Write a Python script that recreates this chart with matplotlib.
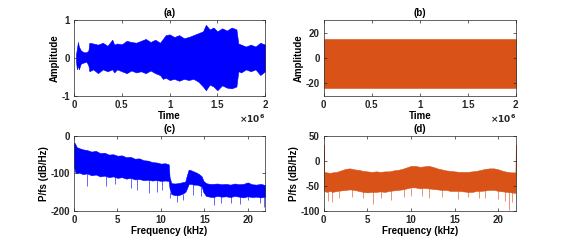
import numpy as np
import matplotlib.pyplot as plt
from matplotlib.ticker import FuncFormatter

plt.rcParams['font.family'] = ['Liberation Sans', 'DejaVu Sans']
plt.rcParams['font.weight'] = 'bold'
plt.rcParams['axes.labelweight'] = 'bold'
plt.rcParams['axes.titleweight'] = 'bold'
plt.rcParams['axes.unicode_minus'] = False

BLUE = '#0000ff'
ORANGE = '#d95319'

# (a) time signal envelope (time in samples x1e6)
a_t = [0.02, 0.03, 0.04, 0.05, 0.07, 0.10, 0.13, 0.15, 0.16, 0.20, 0.25, 0.30, 0.35,
       0.40, 0.42, 0.45, 0.50, 0.55, 0.60, 0.65, 0.70, 0.75, 0.80, 0.85, 0.90, 0.93,
       0.96, 1.00, 1.05, 1.10, 1.15, 1.20, 1.25, 1.30, 1.35, 1.38, 1.42, 1.46, 1.50,
       1.55, 1.60, 1.65, 1.70, 1.72, 1.75, 1.80, 1.85, 1.90, 1.95, 2.00]
a_up = [0.10, 0.25, 0.42, 0.30, 0.20, 0.15, 0.15, 0.20, 0.40, 0.38, 0.35, 0.40, 0.32,
        0.48, 0.35, 0.38, 0.36, 0.45, 0.42, 0.40, 0.45, 0.50, 0.42, 0.48, 0.40, 0.50,
        0.60, 0.62, 0.55, 0.60, 0.52, 0.55, 0.60, 0.65, 0.70, 0.87, 0.75, 0.80, 0.70,
        0.78, 0.72, 0.80, 0.75, 0.38, 0.35, 0.30, 0.35, 0.30, 0.40, 0.35]
a_lo = [-0.10, -0.30, -0.20, -0.30, -0.15, -0.12, -0.10, -0.20, -0.35, -0.30, -0.40,
        -0.30, -0.35, -0.30, -0.38, -0.30, -0.35, -0.40, -0.33, -0.38, -0.35, -0.40,
        -0.33, -0.40, -0.45, -0.55, -0.52, -0.58, -0.55, -0.60, -0.55, -0.58, -0.55,
        -0.62, -0.75, -0.85, -0.70, -0.75, -0.85, -0.72, -0.78, -0.80, -0.75, -0.35,
        -0.38, -0.30, -0.35, -0.30, -0.45, -0.35]

# (b) time signal envelope
b_t = [0.0, 2.0]
b_up = [15, 15]
b_lo = [-24, -24]

# (c) PSD envelope (kHz, dB/Hz)
c_f = [0, 0.1, 0.3, 0.6, 1.0, 1.5, 2.0, 2.5, 3.0, 3.5, 4.0, 4.5, 5.0, 5.5, 6.0, 6.5,
       7.0, 7.5, 8.0, 8.5, 9.0, 9.5, 10.0, 10.5, 10.9, 11.0, 11.2, 11.6, 12.0, 12.4,
       12.8, 13.0, 13.2, 13.5, 13.8, 14.1, 14.4, 14.7, 14.9, 15.2, 15.6, 16.0, 16.5,
       17.0, 17.5, 18.0, 18.5, 19.0, 19.5, 20.0, 20.5, 21.0, 21.5, 22.0]
c_up = [-18, -20, -30, -33, -36, -38, -42, -40, -46, -45, -50, -49, -53, -52, -57, -56,
        -61, -60, -65, -66, -70, -71, -74, -73, -76, -110, -126, -127, -126, -124,
        -122, -105, -90, -92, -95, -98, -102, -108, -120, -126, -128, -128, -127,
        -129, -128, -130, -127, -129, -128, -124, -129, -130, -128, -131]
c_lo = [-80, -95, -100, -98, -102, -100, -105, -103, -108, -106, -110, -108, -112,
        -110, -114, -112, -116, -115, -118, -117, -119, -118, -120, -119, -120, -140,
        -155, -158, -158, -155, -150, -140, -128, -128, -130, -130, -132, -135, -150,
        -160, -162, -163, -160, -162, -161, -163, -160, -162, -164, -161, -163, -162,
        -164, -162]
c_spk_f = [1.5, 3.7, 4.7, 6.5, 7.3, 8.6, 9.5, 10.1, 11.1, 11.9, 12.5, 13.7, 14.6,
           16.1, 16.9, 18.1, 19.1, 20.0, 21.4, 21.9]
c_spk_top = [-100, -106, -109, -112, -115, -117, -118, -119, -150, -155, -155, -128,
             -131, -160, -160, -160, -160, -160, -160, -160]
c_spk_bot = [-133, -133, -128, -139, -145, -152, -149, -145, -165, -176, -170, -158,
             -160, -184, -178, -178, -181, -172, -178, -190]

# (d) PSD envelope
d_f = [0, 0.05, 0.3, 0.7, 1.0, 1.5, 2.0, 2.5, 3.0, 3.5, 4.0, 4.5, 5.0, 5.5, 6.0, 6.5,
       7.0, 7.5, 8.0, 8.5, 9.0, 9.5, 10.0, 10.5, 11.0, 11.5, 12.0, 12.5, 13.0, 13.5,
       14.0, 14.5, 15.0, 15.5, 16.0, 16.5, 17.0, 17.5, 18.0, 18.5, 19.0, 19.5, 20.0,
       20.5, 21.0, 21.5, 21.95, 22.0]
d_up = [32, -22, -23, -24, -23, -22, -19, -16, -15, -17, -18, -20, -21, -22, -21, -22,
        -21, -21, -19, -18, -16, -13, -10, -10, -12, -11, -10, -12, -15, -17, -19, -20,
        -21, -22, -22, -22, -21, -20, -18, -16, -15, -15, -17, -20, -22, -23, -23, 32]
d_lo = [-55, -60, -62, -60, -62, -60, -59, -58, -57, -58, -60, -62, -63, -62, -62,
        -61, -62, -60, -59, -58, -57, -55, -53, -53, -55, -54, -55, -56, -57, -58,
        -58, -60, -60, -60, -61, -62, -62, -60, -60, -59, -58, -58, -60, -61, -62,
        -63, -64, -25]
d_spk_f = [0.5, 1.0, 1.8, 3.2, 4.5, 5.6, 6.5, 7.7, 9.2, 10.0, 11.2, 12.1, 13.5, 15.4,
           16.5, 17.8, 18.5, 20.0, 20.8, 21.2, 21.6]
d_spk_bot = [-80, -83, -75, -72, -75, -86, -75, -78, -72, -70, -70, -75, -72, -76, -73,
             -75, -74, -76, -80, -98, -82]

fig = plt.figure(figsize=(5.7, 2.43), dpi=100)
ax_a = fig.add_axes([0.130, 0.605, 0.335, 0.313])
ax_b = fig.add_axes([0.568, 0.605, 0.337, 0.313])
ax_c = fig.add_axes([0.130, 0.132, 0.335, 0.309])
ax_d = fig.add_axes([0.568, 0.132, 0.337, 0.309])

fmt = FuncFormatter(lambda v, p: f'{v:g}')


def style(ax, title, xlabel, ylabel):
    ax.set_title(title, fontsize=7, pad=3)
    ax.set_xlabel(xlabel, fontsize=7, labelpad=0.5)
    ax.set_ylabel(ylabel, fontsize=7, labelpad=1)
    ax.tick_params(direction='in', length=2, width=0.5, labelsize=7, pad=3,
                   top=True, right=True, colors='#262626')
    ax.xaxis.set_major_formatter(fmt)
    ax.yaxis.set_major_formatter(fmt)
    for s in ax.spines.values():
        s.set_linewidth(0.5)
        s.set_color('#262626')


ax_a.fill_between(a_t, a_lo, a_up, color=BLUE, lw=0.4)
ax_a.set_ylim(-1, 1)
ax_a.set_yticks([-1, 0, 1])
style(ax_a, '(a)', 'Time', 'Amplitude')

ax_b.fill_between(b_t, b_lo, b_up, color=ORANGE, lw=0.4)
ax_b.set_ylim(-30, 30)
ax_b.set_yticks([-20, 0, 20])
style(ax_b, '(b)', 'Time', 'Amplitude')

for ax in (ax_a, ax_b):
    ax.set_xlim(0, 2)
    ax.set_xticks([0, 0.5, 1, 1.5, 2])
    ax.text(1.0, -0.30, r'$\times10^6$', transform=ax.transAxes, ha='right',
            va='center', fontsize=6.5, fontweight='normal', color='#262626')

ax_c.vlines(c_spk_f, c_spk_bot, c_spk_top, color=BLUE, lw=0.6, alpha=0.7)
ax_c.fill_between(c_f, c_lo, c_up, color=BLUE, lw=0.4)
ax_c.set_xlim(0, 22)
ax_c.set_ylim(-200, 0)
ax_c.set_yticks([-200, -100, 0])
ax_c.set_xticks([0, 5, 10, 15, 20])
style(ax_c, '(c)', 'Frequency (kHz)', 'P/fs (dB/Hz)')

ax_d.vlines(d_spk_f, d_spk_bot, -55, color=ORANGE, lw=0.6, alpha=0.7)
ax_d.fill_between(d_f, d_lo, d_up, color=ORANGE, lw=0.4)
ax_d.set_xlim(0, 22)
ax_d.set_ylim(-100, 50)
ax_d.set_yticks([-100, -50, 0, 50])
ax_d.set_xticks([0, 5, 10, 15, 20])
style(ax_d, '(d)', 'Frequency (kHz)', 'P/fs (dB/Hz)')

fig.savefig('out.png', dpi=100)
